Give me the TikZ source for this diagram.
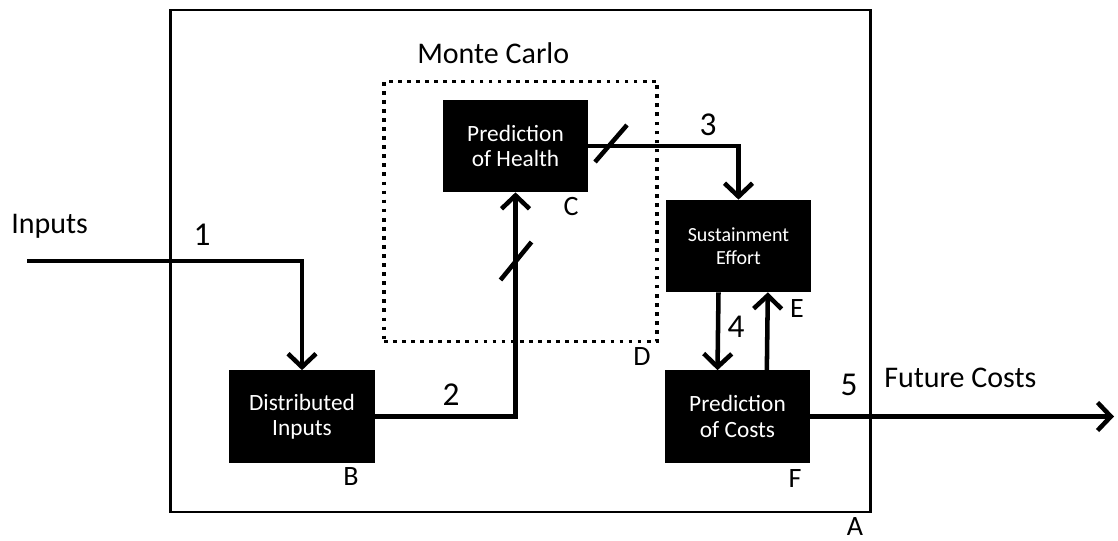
\documentclass[tikz,border=0pt]{standalone}
\usepackage{fontspec}
\setmainfont{Carlito}
\usetikzlibrary{arrows.meta}
\begin{document}
\begin{tikzpicture}[x=0.75pt,y=-0.75pt,
  blockbox/.style={fill=black,text=white,align=center,inner sep=0pt,outer sep=0pt,
    minimum width=109pt,minimum height=69.5pt,font=\fontsize{17.5}{19}\selectfont},
  flow/.style={line width=3.4pt,-{Straight Barb[length=10pt,width=21pt]}},
  tag/.style={anchor=base,font=\fontsize{21}{24}\selectfont,inner sep=0pt},
  num/.style={anchor=base,font=\fontsize{25}{28}\selectfont,inner sep=0pt},
  big/.style={anchor=base west,font=\fontsize{22.5}{26}\selectfont,inner sep=0pt},
  slash/.style={line width=3.4pt}]
\useasboundingbox (0,0) rectangle (1118,540);

% outer system boundary and Monte Carlo region
\node[draw,line width=2.2pt,inner sep=0pt,outer sep=0pt,
  minimum width=525pt,minimum height=376.5pt] (A) at (520.5,261) {};
\node[draw,line width=2.8pt,dash pattern=on 2.8pt off 4pt,inner sep=0pt,outer sep=0pt,
  minimum width=205pt,minimum height=195pt] (D) at (520.5,211.5) {};

% blocks
\node[blockbox] (B) at (302,416.5) {Distributed\\Inputs};
\node[blockbox] (C) at (515.5,146) {Prediction\\of Health};
\node[blockbox,font=\fontsize{15}{17.5}\selectfont] (E) at (738.5,246) {Sustainment\\Effort};
\node[blockbox] (F) at (737.5,416.5) {Prediction\\of Costs};

% free ends
\coordinate (in) at (27,261);
\coordinate (out) at (1114,416.5);

% connectors
\draw[flow] (in) -| (B.north);
\draw[flow] (B.east) -| (C.south);
\draw[flow] (C.east) -| (E.north);
\draw[flow] ([xshift=-15pt]E.south) -- ([xshift=-15pt]F.north);
\draw[flow] ([xshift=22pt]F.north) -- ([xshift=22pt]E.south);
\draw[flow] (F.east) -- (out);

% slash marks on the Monte Carlo paths
\coordinate (s1) at (515.5,261);
\coordinate (s2) at (611,145);
\draw[slash] ([shift={(-15,19)}]s1) -- ([shift={(16,-19)}]s1);
\draw[slash] ([shift={(-16,17)}]s2) -- ([shift={(16,-20)}]s2);

% texts
\node[big] (tin) at (11,233) {Inputs};
\node[big] (tout) at (884,387) {Future Costs};
\node[big] (tmc) at (417,63) {Monte Carlo};
\node[num] (n1) at (202,245) {1};
\node[num] (n2) at (451,405) {2};
\node[num] (n3) at (708,135) {3};
\node[num] (n4) at (736,337) {4};
\node[num] (n5) at (849,395) {5};
\node[tag] (lA) at (855,535) {A};
\node[tag] (lB) at (351,485) {B};
\node[tag] (lC) at (571,215) {C};
\node[tag] (lD) at (642,365) {D};
\node[tag] (lE) at (797,317) {E};
\node[tag] (lF) at (795,487) {F};
\end{tikzpicture}
\end{document}
